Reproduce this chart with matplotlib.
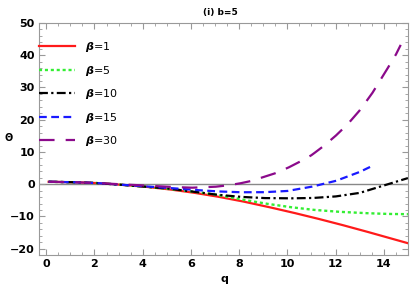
import numpy as np
import matplotlib.pyplot as plt
from matplotlib.ticker import MultipleLocator

plt.rcParams['mathtext.fontset'] = 'custom'
plt.rcParams['mathtext.it'] = 'DejaVu Sans:italic:bold'
plt.rcParams['mathtext.rm'] = 'DejaVu Sans:bold'

# curves
q1 = [0.1, 1, 2, 2.8, 4, 5, 6, 7, 8, 9, 10, 11, 12, 13, 14, 15]
th1 = [0.75, 0.65, 0.4, 0.0, -0.7, -1.5, -2.5, -3.7, -5.1, -6.7, -8.4, -10.2, -12.1, -14.1, -16.2, -18.3]

q5 = [0.1, 1, 2, 2.8, 4, 5, 6, 7, 8, 9, 10, 11, 12, 13, 14, 15]
th5 = [0.75, 0.65, 0.4, 0.0, -0.7, -1.4, -2.2, -3.2, -4.6, -5.9, -7.0, -7.9, -8.5, -8.9, -9.2, -9.3]

q10 = [0.1, 1, 2, 2.8, 4, 5, 6, 7, 8, 9, 10, 11, 12, 13, 14, 15]
th10 = [0.75, 0.65, 0.4, 0.0, -0.7, -1.3, -2.2, -3.2, -3.9, -4.3, -4.4, -4.3, -3.8, -2.7, -0.4, 1.9]

q15 = [0.1, 1, 2, 2.8, 4, 5, 6, 7, 8, 9, 10, 11, 12, 13, 13.5]
th15 = [0.75, 0.65, 0.4, 0.0, -0.6, -1.1, -1.7, -2.2, -2.5, -2.5, -2.1, -0.8, 1.0, 3.8, 5.6]

q30 = [0.1, 1, 2, 3, 4, 5, 6, 7, 7.5, 8, 8.5, 9, 9.5, 10, 10.5, 11, 11.5, 12, 12.5, 13, 13.5, 14, 14.5, 14.7]
th30 = [0.75, 0.65, 0.4, 0.0, -0.4, -0.8, -1.1, -0.8, -0.4, 0.2, 1.0, 2.2, 3.4, 5.0, 6.9, 9.0, 11.8, 15.0, 18.6, 22.9, 28.0, 34.0, 40.2, 43.2]

labels = [r'$\it{\beta}$=1', r'$\it{\beta}$=5', r'$\it{\beta}$=10', r'$\it{\beta}$=15', r'$\it{\beta}$=30']


def smooth(x, y):
    xs = np.linspace(x[0], x[-1], 300)
    return xs, np.interp(xs, x, y)


fig = plt.figure(figsize=(4.15, 2.87), dpi=100)
ax = fig.add_axes([0.094, 0.111, 0.889, 0.809])

ax.axhline(0, color='#888888', lw=1.0, zorder=1)

x, y = smooth(q1, th1)
ax.plot(x, y, color='#ff1a1a', lw=1.6, label=labels[0])
x, y = smooth(q5, th5)
ax.plot(x, y, color='#33ee33', lw=1.7, ls=(0, (1.3, 1.2)), label=labels[1])
x, y = smooth(q10, th10)
ax.plot(x, y, color='black', lw=1.6, ls=(0, (4, 1.5, 1, 1.5)), label=labels[2])
x, y = smooth(q15, th15)
ax.plot(x, y, color='#1a1aff', lw=1.6, ls=(0, (3.5, 2)), label=labels[3])
x, y = smooth(q30, th30)
ax.plot(x, y, color='#8b0a8b', lw=1.6, ls=(0, (7, 5)), label=labels[4])

ax.set_xlim(-0.3, 15.0)
ax.set_ylim(-22, 50)
ax.xaxis.set_major_locator(MultipleLocator(2))
ax.xaxis.set_minor_locator(MultipleLocator(0.5))
ax.yaxis.set_major_locator(MultipleLocator(10))
ax.yaxis.set_minor_locator(MultipleLocator(2))
ax.tick_params(which='both', direction='in', top=True, right=True, labeltop=False, labelright=False,
               color='#999999')
ax.tick_params(which='major', length=4, labelsize=8, pad=3)
ax.tick_params(which='minor', length=2)
for lab in ax.get_xticklabels() + ax.get_yticklabels():
    lab.set_fontweight('bold')
for s in ax.spines.values():
    s.set_color('#999999')
    s.set_linewidth(0.8)

ax.legend(loc='upper left', bbox_to_anchor=(0.0, 0.925), frameon=False, fontsize=8,
          handlelength=3.2, handletextpad=0.9, labelspacing=0.85, borderpad=0, borderaxespad=0)

fig.text(0.53, 0.955, '(i) b=5', ha='center', va='center', fontsize=6.5, fontweight='bold')
fig.text(0.012, 0.52, 'Θ', ha='left', va='center', fontsize=7, fontweight='bold')
fig.text(0.542, 0.028, 'q', ha='center', va='center', fontsize=8, fontweight='bold')

fig.savefig('out.png', dpi=100)
